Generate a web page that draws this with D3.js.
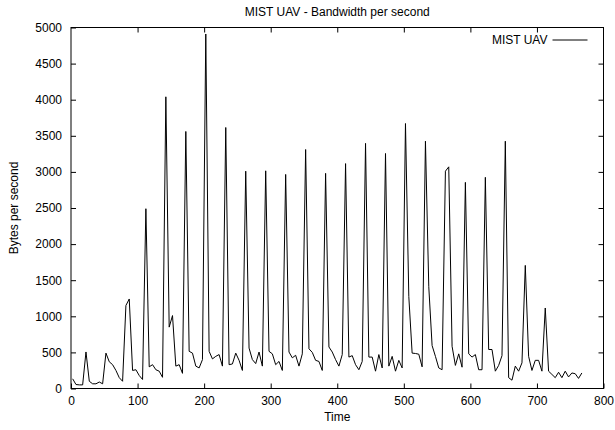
<!DOCTYPE html>
<html>
<head>
<meta charset="utf-8">
<script src="https://cdn.jsdelivr.net/npm/d3@7"></script>
<style>
  body { margin: 0; background: #fff; }
  svg { display: block; font-family: "Liberation Sans", Arial, sans-serif; }
</style>
</head>
<body>
<svg id="chart" width="615" height="430"></svg>
<script>
const times = [
  2.5, 7.5, 12.5, 17.5, 22.5, 27.5, 32.5, 37.5, 42.5, 47.5,
  52.5, 57.5, 62.5, 67.5, 72.5, 77.5, 82.5, 87.5, 92.5, 97.5,
  102.5, 107.5, 112.5, 117.5, 122.5, 127.5, 132.5, 137.5, 142.5, 147.5,
  152.5, 157.5, 162.5, 167.5, 172.5, 177.5, 182.5, 187.5, 192.5, 197.5,
  202.5, 207.5, 212.5, 217.5, 222.5, 227.5, 232.5, 237.5, 242.5, 247.5,
  252.5, 257.5, 262.5, 267.5, 272.5, 277.5, 282.5, 287.5, 292.5, 297.5,
  302.5, 307.5, 312.5, 317.5, 322.5, 327.5, 332.5, 337.5, 342.5, 347.5,
  352.5, 357.5, 362.5, 367.5, 372.5, 377.5, 382.5, 387.5, 392.5, 397.5,
  402.5, 407.5, 412.5, 417.5, 422.5, 427.5, 432.5, 437.5, 442.5, 447.5,
  452.5, 457.5, 462.5, 467.5, 472.5, 477.5, 482.5, 487.5, 492.5, 497.5,
  502.5, 507.5, 512.5, 517.5, 522.5, 527.5, 532.5, 537.5, 542.5, 547.5,
  552.5, 557.5, 562.5, 567.5, 572.5, 577.5, 582.5, 587.5, 592.5, 597.5,
  602.5, 607.5, 612.5, 617.5, 622.5, 627.5, 632.5, 637.5, 642.5, 647.5,
  652.5, 657.5, 662.5, 667.5, 672.5, 677.5, 682.5, 687.5, 692.5, 697.5,
  702.5, 707.5, 712.5, 717.5, 722.5, 727.5, 732.5, 737.5, 742.5, 747.5,
  752.5, 757.5, 762.5, 767.5
]

const bytes = [
  134, 55, 50, 50, 506, 100, 65, 65, 90, 65,
  490, 370, 330, 250, 150, 100, 1150, 1240, 250, 260,
  180, 125, 2490, 300, 330, 260, 240, 155, 4040, 850,
  1010, 310, 330, 210, 3560, 515, 490, 310, 285, 400,
  4910, 515, 410, 445, 470, 310, 3615, 330, 340, 490,
  390, 250, 3010, 560, 400, 345, 505, 310, 3015, 515,
  480, 330, 375, 250, 2965, 505, 425, 460, 310, 480,
  3310, 550, 500, 390, 375, 250, 2980, 575, 505, 400,
  310, 470, 3115, 435, 455, 330, 260, 375, 3395, 435,
  435, 240, 470, 285, 3255, 310, 445, 240, 390, 285,
  3670, 1275, 490, 485, 475, 300, 3425, 1410, 595, 445,
  285, 260, 3010, 3070, 585, 320, 480, 295, 2855, 480,
  435, 470, 260, 260, 2925, 540, 540, 240, 320, 455,
  3425, 150, 115, 310, 240, 355, 1705, 445, 250, 390,
  390, 240, 1115, 240, 195, 150, 225, 150, 240, 160,
  215, 205, 140, 215
]

const xTicks = [0, 100, 200, 300, 400, 500, 600, 700, 800]
const yTicks = [0, 500, 1000, 1500, 2000, 2500, 3000, 3500, 4000, 4500, 5000]

const title = 'MIST UAV - Bandwidth per second'
const seriesName = 'MIST UAV'

const svg = d3.select('#chart')
const margin = { top: 27.5, right: 11.5, bottom: 41.5, left: 71 }
const w = 615 - margin.left - margin.right
const h = 430 - margin.top - margin.bottom

const g = svg.append('g').attr('transform', `translate(${margin.left},${margin.top})`)

const x = d3.scaleLinear().domain([0, 800]).range([0, w])
const y = d3.scaleLinear().domain([0, 5000]).range([h, 0])

const fontSize = 12

// bottom / left axes with inward ticks, gnuplot style
const xAxis = d3.axisBottom(x).tickValues(xTicks).tickFormat(d3.format('d'))
  .tickSizeInner(-5).tickSizeOuter(0).tickPadding(8)
const yAxis = d3.axisLeft(y).tickValues(yTicks).tickFormat(d3.format('d'))
  .tickSizeInner(-5).tickSizeOuter(0).tickPadding(9)

g.append('g')
  .attr('transform', `translate(0,${h})`)
  .call(xAxis)
g.append('g').call(yAxis)

// mirrored ticks on top and right, no labels
g.append('g')
  .call(d3.axisTop(x).tickValues(xTicks.slice(1, -1)).tickSizeInner(-5).tickSizeOuter(0).tickFormat(''))
g.append('g')
  .attr('transform', `translate(${w},0)`)
  .call(d3.axisRight(y).tickValues(yTicks.slice(1, -1)).tickSizeInner(-5).tickSizeOuter(0).tickFormat(''))

g.selectAll('.domain').remove()
g.selectAll('.tick line').attr('stroke', '#000').attr('stroke-width', 1)
g.selectAll('.tick text')
  .attr('fill', '#000')
  .style('font-size', fontSize + 'px')
  .style('font-family', '"Liberation Sans", Arial, sans-serif')

const line = d3.line()
  .x((d, i) => x(times[i]))
  .y(d => y(d))

g.append('path')
  .datum(bytes)
  .attr('fill', 'none')
  .attr('stroke', '#000')
  .attr('stroke-width', 1)
  .attr('stroke-linejoin', 'miter')
  .attr('d', line)

// frame
g.append('rect')
  .attr('width', w)
  .attr('height', h)
  .attr('fill', 'none')
  .attr('stroke', '#000')
  .attr('stroke-width', 1)

// legend
const legend = g.append('g').attr('transform', `translate(${w - 56},${12.5})`)
legend.append('text')
  .attr('x', 0)
  .attr('y', 4)
  .attr('text-anchor', 'end')
  .style('font-size', fontSize + 'px')
  .text(seriesName)
legend.append('line')
  .attr('x1', 5).attr('x2', 40)
  .attr('y1', 0).attr('y2', 0)
  .attr('stroke', '#000')
  .attr('stroke-width', 1)

// title and axis labels
svg.append('text')
  .attr('x', margin.left + w / 2)
  .attr('y', 16)
  .attr('text-anchor', 'middle')
  .style('font-size', fontSize + 'px')
  .text(title)

svg.append('text')
  .attr('x', margin.left + w / 2)
  .attr('y', 421)
  .attr('text-anchor', 'middle')
  .style('font-size', fontSize + 'px')
  .text('Time')

svg.append('text')
  .attr('transform', `translate(18,${margin.top + h / 2}) rotate(-90)`)
  .attr('text-anchor', 'middle')
  .style('font-size', fontSize + 'px')
  .text('Bytes per second')
</script>
</body>
</html>
